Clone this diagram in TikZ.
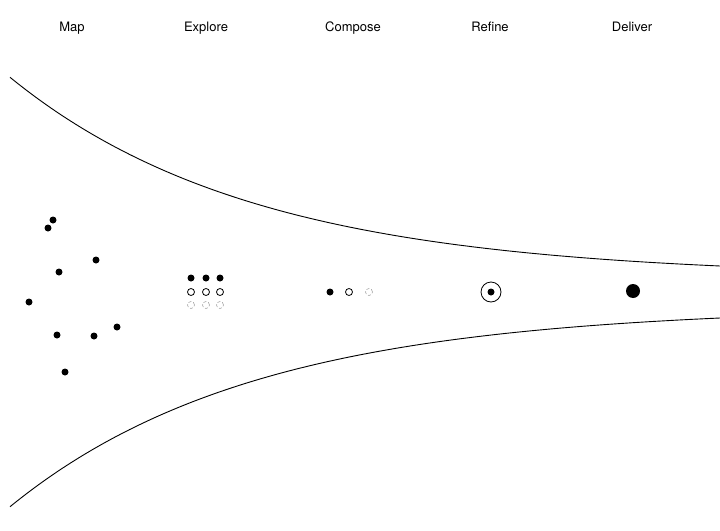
\documentclass[tikz,border=0pt]{standalone}
\usepackage{fontspec}
\setmainfont{TeX Gyre Heros}
\usepackage{tikz}
\usetikzlibrary{positioning,calc}
\tikzset{
  phase/.style  = {anchor=base, font=\fontsize{13}{15}\selectfont},
  dot/.style    = {fill, circle, inner sep=0pt, minimum size=7pt},
  ring/.style   = {draw, circle, line width=0.8pt, inner sep=0pt, minimum size=7pt},
  ghost/.style  = {draw=black!35, densely dashed, circle, line width=0.6pt,
                   inner sep=0pt, minimum size=7pt},
  funnel/.style = {line width=0.9pt, domain=10:720, samples=120, smooth},
}
% half width of the funnel at x
\newcommand{\halfw}[1]{(15+208*exp(-(#1)/245))}

\begin{document}
\begin{tikzpicture}[x=1pt,y=-1pt]
\useasboundingbox (0,0) rectangle (720,530);
% ---- phase titles ----
\node[phase] (tMap) at (72,31) {Map};
\node[phase] (tExp) at (206,31) {Explore};
\node[phase] (tCmp) at (353,31) {Compose};
\node[phase] (tRef) at (490,31) {Refine};
\node[phase] (tDel) at (632,31) {Deliver};
% ---- funnel outline ----
\draw[funnel] plot (\x, {292-\halfw{\x}});
\draw[funnel] plot (\x, {292+\halfw{\x}});
% ---- map: scattered ideas ----
\node[dot] (m1) at (53,220) {};
\node[dot] (m2) at (48,228) {};
\node[dot] (m3) at (96,260) {};
\node[dot] (m4) at (59,272) {};
\node[dot] (m5) at (29,302) {};
\node[dot] (m6) at (117,327) {};
\node[dot] (m7) at (57,335) {};
\node[dot] (m8) at (94,336) {};
\node[dot] (m9) at (65,372) {};
% ---- explore: grid of options ----
\foreach \i/\x in {1/191,2/206,3/220}{
  \node[dot]   (e\i a) at (\x,278) {};
  \node[ring]  (e\i b) at (\x,292) {};
  \node[ghost] (e\i c) at (\x,305) {};
}
% ---- compose ----
\node[dot]   (c1) at (330,292) {};
\node[ring]  (c2) at (349,292) {};
\node[ghost] (c3) at (369,292) {};
% ---- refine ----
\node[draw, circle, line width=0.8pt, minimum size=20pt] (r0) at (491,292) {};
\node[dot] (r1) at (r0.center) {};
% ---- deliver ----
\node[dot, minimum size=14pt] (d1) at (633,291) {};
\end{tikzpicture}
\end{document}
